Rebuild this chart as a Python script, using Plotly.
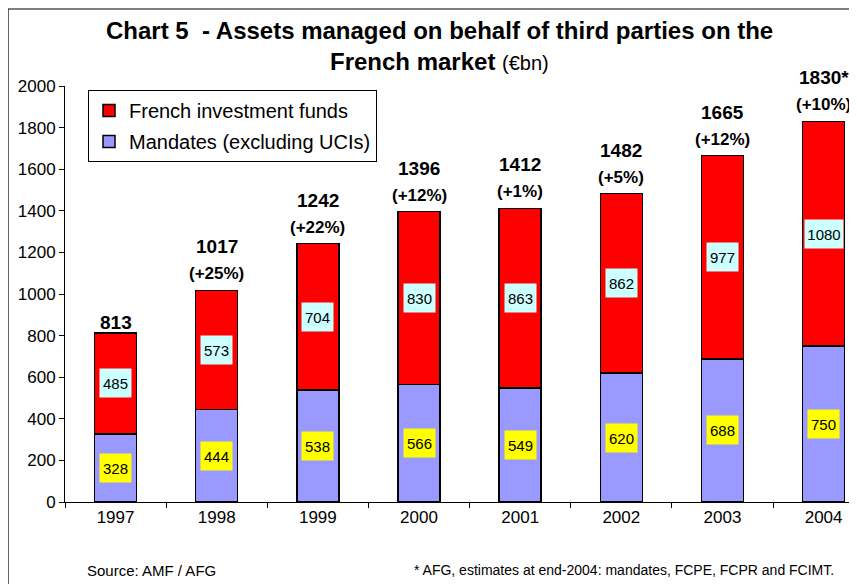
import plotly.graph_objects as go

# data (EUR bn)
years = ["1997", "1998", "1999", "2000", "2001", "2002", "2003", "2004"]
mandates = [328, 444, 538, 566, 549, 620, 688, 750]
funds = [485, 573, 704, 830, 863, 862, 977, 1080]
totals = [813, 1017, 1242, 1396, 1412, 1482, 1665, 1830]
total_labels = ["813", "1017", "1242", "1396", "1412", "1482", "1665", "1830*"]
growth = ["", "(+25%)", "(+22%)", "(+12%)", "(+1%)", "(+5%)", "(+12%)", "(+10%)"]

FONT = "Arial, Liberation Sans, sans-serif"

fig = go.Figure()

fig.add_trace(go.Bar(name="Mandates (excluding UCIs)", x=years, y=mandates,
                     legendgroup="b", legendrank=2,
                     marker=dict(color="#9999FF", line=dict(color="black", width=1.5)),
                     width=0.415))
fig.add_trace(go.Bar(name="French investment funds", x=years, y=funds,
                     legendgroup="a", legendrank=1,
                     marker=dict(color="#FF0000", line=dict(color="black", width=1.5)),
                     width=0.415))

# value boxes inside the segments (x given as category index)
for i, (m, f) in enumerate(zip(mandates, funds)):
    fig.add_annotation(x=i, y=m / 2, text=str(m), showarrow=False,
                       bgcolor="#FFFF00", borderpad=0, width=31, height=28,
                       font=dict(family=FONT, size=15, color="black"))
    fig.add_annotation(x=i, y=m + f / 2, text=str(f), showarrow=False,
                       bgcolor="#CCFFFF", borderpad=0, width=31 if f < 1000 else 38,
                       height=28, font=dict(family=FONT, size=15, color="black"))

# totals and growth above the bars
for i, (t, lab, g) in enumerate(zip(totals, total_labels, growth)):
    if g:
        fig.add_annotation(x=i, y=t, text="<b>" + g + "</b>", showarrow=False,
                           yanchor="bottom", yshift=5,
                           font=dict(family=FONT, size=17, color="black"))
        fig.add_annotation(x=i, y=t, text="<b>" + lab + "</b>", showarrow=False,
                           yanchor="bottom", yshift=31,
                           font=dict(family=FONT, size=19, color="black"))
    else:
        fig.add_annotation(x=i, y=t, text="<b>" + lab + "</b>", showarrow=False,
                           yanchor="bottom", yshift=-2,
                           font=dict(family=FONT, size=19, color="black"))

# title
fig.add_annotation(xref="paper", yref="paper", x=0.473, y=(502 - 30) / 416, yanchor="middle",
                   text="<b>Chart 5  - Assets managed on behalf of third parties on the</b>",
                   showarrow=False, font=dict(family=FONT, size=24, color="black"))
fig.add_annotation(xref="paper", yref="paper", x=0.473, y=(502 - 62) / 416, yanchor="middle",
                   text="<b>French market</b> <span style='font-size:20px'>(€bn)</span>",
                   showarrow=False, font=dict(family=FONT, size=24, color="black"))

# footnotes
fig.add_annotation(xref="paper", yref="paper", x=(85 - 65) / 792, y=(502 - 570) / 416,
                   xanchor="left", yanchor="middle", text="Source: AMF / AFG",
                   showarrow=False, font=dict(family=FONT, size=15, color="black"))
fig.add_annotation(xref="paper", yref="paper", x=(836 - 65) / 792, y=(502 - 570) / 416,
                   xanchor="right", yanchor="middle",
                   text="* AFG, estimates at end-2004: mandates, FCPE, FCPR and FCIMT.",
                   showarrow=False, font=dict(family=FONT, size=14, color="black"))

# outer frame (cropped on the right and bottom)
fig.add_shape(type="rect", xref="paper", yref="paper",
              x0=(8 - 65) / 792, x1=1.1, y0=-0.3, y1=(502 - 9) / 416,
              line=dict(color="black", width=1.2), layer="below")

fig.update_layout(
    barmode="stack",
    width=857, height=584,
    margin=dict(l=57, r=8, t=78, b=90),
    paper_bgcolor="white", plot_bgcolor="white",
    font=dict(family=FONT, size=17, color="black"),
    showlegend=True,
    legend=dict(x=(88 - 65) / 792, y=(502 - 90) / 416, xanchor="left", yanchor="top",
                bgcolor="white", bordercolor="black", borderwidth=1,
                font=dict(family=FONT, size=20, color="black"),
                traceorder="grouped", tracegroupgap=2),
)
fig.update_xaxes(type="category", range=[-0.5, 7.33], showline=True, linecolor="black",
                 linewidth=1, ticks="outside", tickson="boundaries", ticklen=5,
                 tickcolor="black", showgrid=False, tickfont=dict(size=17))
fig.update_yaxes(range=[0, 2000], dtick=200, showline=True, linecolor="black",
                 linewidth=1, ticks="outside", ticklen=5, tickcolor="black",
                 showgrid=False, zeroline=False, tickfont=dict(size=17))

fig.write_html("out.html")
